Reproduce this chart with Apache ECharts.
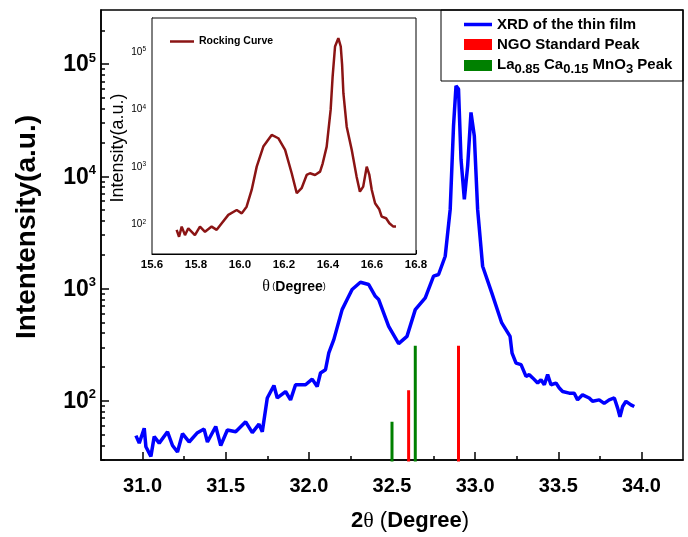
<!DOCTYPE html>
<html>
<head>
<meta charset="utf-8">
<script src="https://cdn.jsdelivr.net/npm/echarts@6/dist/echarts.min.js"></script>
<style>html,body{margin:0;padding:0;background:#fff}#c{width:688px;height:537px}</style>
</head>
<body>
<div id="c"></div>
<script>
// ---- main XRD pattern (2theta, intensity) ----
const xrdX = [30.96, 30.98, 31.01, 31.02, 31.05, 31.07, 31.10, 31.15, 31.18, 31.21, 31.24, 31.28, 31.33, 31.37, 31.39, 31.44, 31.47, 31.51, 31.56, 31.62, 31.66, 31.70, 31.72, 31.75, 31.79, 31.81, 31.86, 31.89, 31.92, 31.98, 32.02, 32.05, 32.07, 32.10, 32.12, 32.15, 32.20, 32.23, 32.26, 32.31, 32.36, 32.40, 32.42, 32.48, 32.54, 32.59, 32.64, 32.70, 32.75, 32.78, 32.82, 32.85, 32.87, 32.885, 32.90, 32.915, 32.935, 32.955, 32.975, 32.995, 33.015, 33.045, 33.10, 33.16, 33.21, 33.222, 33.246, 33.276, 33.306, 33.326, 33.346, 33.376, 33.396, 33.416, 33.436, 33.456, 33.486, 33.506, 33.526, 33.566, 33.596, 33.616, 33.646, 33.686, 33.706, 33.746, 33.776, 33.806, 33.837, 33.857, 33.871, 33.887, 33.907, 33.937, 33.957];
const xrdY = [49, 42, 57, 39, 32, 48, 42, 53, 40, 35, 51, 43, 52, 56, 43, 59, 40, 55, 53, 65, 52, 62, 53, 106, 137, 106, 121, 102, 139, 139, 156, 134, 177, 189, 267, 351, 649, 798, 980, 1137, 1086, 853, 798, 461, 323, 375, 649, 826, 1288, 1334, 1941, 5070, 28100, 64000, 59800, 14200, 6240, 12400, 37100, 22900, 5070, 1580, 916, 494, 375, 266, 217, 210, 165, 171, 160, 144, 154, 139, 171, 139, 144, 130, 121, 117, 117, 102, 113, 106, 99, 102, 95, 102, 106, 86, 72, 89, 99, 92, 89];

// ---- reference peaks ----
const ngoX = [32.60, 32.90];
const ngoY = [124, 310];
const lcmoX = [32.50, 32.64];
const lcmoY = [65, 310];

// ---- rocking curve (theta, intensity) ----
const rockX = [15.712, 15.723, 15.735, 15.75, 15.765, 15.795, 15.818, 15.841, 15.871, 15.894, 15.917, 15.947, 15.985, 16.008, 16.03, 16.053, 16.076, 16.106, 16.144, 16.174, 16.205, 16.235, 16.258, 16.28, 16.303, 16.318, 16.341, 16.364, 16.376, 16.394, 16.412, 16.421, 16.432, 16.447, 16.458, 16.464, 16.47, 16.485, 16.508, 16.53, 16.545, 16.56, 16.576, 16.588, 16.599, 16.614, 16.633, 16.644, 16.664, 16.679, 16.697, 16.709];
const rockY = [79, 60, 90, 64, 84, 64, 90, 73, 90, 79, 103, 144, 175, 153, 200, 391, 997, 2225, 3550, 3110, 1946, 764, 343, 419, 714, 764, 714, 815, 1140, 2225, 9680, 36800, 123000, 172000, 123000, 60000, 18900, 4950, 1946, 667, 365, 447, 995, 714, 391, 230, 180, 134, 126, 103, 90, 90];

// ---- axes ----
const mainXMin = 30.75, mainXMax = 34.25;
const mainXTicks = [31.0, 31.5, 32.0, 32.5, 33.0, 33.5, 34.0];
const mainXMinor = [31.25, 31.75, 32.25, 32.75, 33.25, 33.75];
const mainYMin = 29.7, mainYMax = 303000;
const mainYTicks = [100, 1000, 10000, 100000];
const mainYMinor = [30, 40, 50, 60, 70, 80, 90, 200, 300, 400, 500, 600, 700, 800, 900, 2000, 3000, 4000, 5000, 6000, 7000, 8000, 9000, 20000, 30000, 40000, 50000, 60000, 70000, 80000, 90000, 200000];
const insetXMin = 15.6, insetXMax = 16.8;
const insetYMin = 30, insetYMax = 386000;
const insetYTicks = [100, 1000, 10000, 100000];

const names = {
  xrd: 'XRD of the thin film',
  ngo: 'NGO Standard Peak',
  lcmo: 'La0.85 Ca0.15 MnO3 Peak',
  rock: 'Rocking Curve'
};

const FONT = '"Liberation Sans", Arial, sans-serif';
const pair = (xs, ys) => xs.map((x, i) => [x, ys[i]]);
const sticks = (xs, ys) => {
  const out = [];
  xs.forEach((x, i) => { out.push([x, 1]); out.push([x, ys[i]]); out.push([x, '-']); });
  return out;
};
const pow10 = v => '{b|10}{s|' + Math.round(Math.log10(v)) + '}';

const chart = echarts.init(document.getElementById('c'), null, {renderer: 'canvas'});
chart.setOption({
  backgroundColor: '#fff',
  animation: false,
  textStyle: {fontFamily: FONT},
  grid: [
    {left: 101, top: 10, width: 582, height: 450, show: true, borderColor: '#000', borderWidth: 1.5, backgroundColor: 'transparent'},
    {left: 152, top: 18, width: 264, height: 236, show: true, borderColor: '#000', borderWidth: 1, backgroundColor: '#fff', z: 3}
  ],
  graphic: [{
    type: 'rect', z: 10, silent: true,
    shape: {x: 441, y: 10, width: 242, height: 71},
    style: {fill: 'none', stroke: '#000', lineWidth: 1}
  }],
  legend: [
    {
      orient: 'vertical', left: 459, top: 12, itemGap: 5,
      itemWidth: 28, itemHeight: 11,
      data: [
        {name: names.xrd, icon: 'path://M0,0 M28,11 M0,3.75 L28,3.75 L28,7.25 L0,7.25 Z'},
        {name: names.ngo, icon: 'rect'},
        {name: names.lcmo, icon: 'rect'}
      ],
      formatter: n => n === names.lcmo
        ? '{n|La}{s|0.85} {n|Ca}{s|0.15} {n|MnO}{s|3} {n|Peak}' : n,
      textStyle: {
        fontFamily: FONT, fontSize: 15, fontWeight: 'bold', color: '#000',
        rich: {
          n: {fontFamily: FONT, fontSize: 15, fontWeight: 'bold', color: '#000', lineHeight: 17, verticalAlign: 'top'},
          s: {fontFamily: FONT, fontSize: 13, fontWeight: 'bold', color: '#000', lineHeight: 13, padding: [6, 0, 0, 0], verticalAlign: 'top'}
        }
      }
    },
    {
      orient: 'vertical', left: 165, top: 31,
      itemWidth: 24, itemHeight: 8,
      data: [{name: names.rock, icon: 'path://M0,0 M24,8 M0,2.75 L24,2.75 L24,5.25 L0,5.25 Z'}],
      textStyle: {fontFamily: FONT, fontSize: 10.5, fontWeight: 'bold', color: '#000'}
    }
  ],
  xAxis: [
    {
      type: 'value', gridIndex: 0, min: mainXMin, max: mainXMax,
      name: '{b|2}{t|θ}{p| (}{b|Degree}{p|)}', nameLocation: 'middle', nameGap: 50,
      nameTextStyle: {
        padding: [0, 0, 0, 36],
        rich: {
          b: {fontFamily: FONT, fontSize: 22, fontWeight: 'bold', color: '#000'},
          t: {fontFamily: '"Liberation Serif", serif', fontSize: 22, color: '#000'},
          p: {fontFamily: FONT, fontSize: 22, color: '#000'}
        }
      },
      axisLine: {show: true, lineStyle: {color: '#000', width: 1.5}},
      axisTick: {show: true, inside: true, length: 8, customValues: mainXTicks, lineStyle: {color: '#000', width: 1.5}},
      axisLabel: {customValues: mainXTicks, formatter: v => v.toFixed(1), fontFamily: FONT, fontSize: 20, fontWeight: 'bold', color: '#000', margin: 16},
      splitLine: {show: false}
    },
    {
      type: 'value', gridIndex: 0, min: mainXMin, max: mainXMax, position: 'bottom',
      axisLine: {show: false},
      axisTick: {show: true, inside: true, length: 4, customValues: mainXMinor, lineStyle: {color: '#000', width: 1.5}},
      axisLabel: {show: false},
      splitLine: {show: false}
    },
    {
      type: 'value', gridIndex: 1, min: insetXMin, max: insetXMax, interval: 0.2,
      name: '{t|θ}{p| (}{b|Degree}{p|)}', nameLocation: 'middle', nameGap: 25,
      nameTextStyle: {
        padding: [0, 0, 0, 20],
        rich: {
          b: {fontFamily: FONT, fontSize: 14, fontWeight: 'bold', color: '#000'},
          t: {fontFamily: '"Liberation Serif", serif', fontSize: 16, color: '#000'},
          p: {fontFamily: FONT, fontSize: 9, color: '#000'}
        }
      },
      axisLine: {show: true, lineStyle: {color: '#000', width: 1}},
      axisTick: {show: true, inside: true, length: 4, lineStyle: {color: '#000'}},
      minorTick: {show: true, splitNumber: 2, length: 4, lineStyle: {color: '#000'}},
      axisLabel: {formatter: v => v.toFixed(1), fontFamily: FONT, fontSize: 11.5, fontWeight: 'bold', color: '#000', margin: 5},
      splitLine: {show: false}
    }
  ],
  yAxis: [
    {
      type: 'log', logBase: 10, gridIndex: 0, min: mainYMin, max: mainYMax,
      name: 'Intentensity(a.u.)', nameLocation: 'middle', nameGap: 60,
      nameTextStyle: {fontFamily: FONT, fontSize: 28, fontWeight: 'bold', color: '#000', padding: [0, 0, 0, 16]},
      axisLine: {show: true, lineStyle: {color: '#000', width: 1.5}},
      axisTick: {show: true, inside: true, length: 8, customValues: mainYTicks, lineStyle: {color: '#000', width: 1.5}},
      axisLabel: {
        customValues: mainYTicks, formatter: pow10, margin: 5,
        rich: {
          b: {fontFamily: FONT, fontSize: 23, fontWeight: 'bold', color: '#000', lineHeight: 25, padding: [4, 0, 0, 0], verticalAlign: 'bottom'},
          s: {fontFamily: FONT, fontSize: 13, fontWeight: 'bold', color: '#000', lineHeight: 13, verticalAlign: 'top'}
        }
      },
      splitLine: {show: false}
    },
    {
      type: 'log', logBase: 10, gridIndex: 0, min: mainYMin, max: mainYMax, position: 'left',
      axisLine: {show: false},
      axisTick: {show: true, inside: true, length: 4, customValues: mainYMinor, lineStyle: {color: '#000', width: 1.5}},
      axisLabel: {show: false},
      splitLine: {show: false}
    },
    {
      type: 'log', logBase: 10, gridIndex: 1, min: insetYMin, max: insetYMax,
      name: 'Intensity(a.u.)', nameLocation: 'middle', nameGap: 25,
      nameTextStyle: {fontFamily: FONT, fontSize: 18, color: '#000', padding: [0, 24, 0, 0]},
      axisLine: {show: true, lineStyle: {color: '#000', width: 1}},
      axisTick: {show: true, inside: true, length: 4, customValues: insetYTicks, lineStyle: {color: '#000'}},
      axisLabel: {
        customValues: insetYTicks, formatter: pow10, margin: 6,
        rich: {
          b: {fontFamily: FONT, fontSize: 10, color: '#000', lineHeight: 11, verticalAlign: 'bottom'},
          s: {fontFamily: FONT, fontSize: 6.5, color: '#000', lineHeight: 7, verticalAlign: 'top'}
        }
      },
      splitLine: {show: false}
    }
  ],
  series: [
    {
      name: names.xrd, type: 'line', xAxisIndex: 0, yAxisIndex: 0,
      data: pair(xrdX, xrdY), symbol: 'none', z: 3,
      lineStyle: {color: '#0000ff', width: 3.5}, itemStyle: {color: '#0000ff'}
    },
    {
      name: names.ngo, type: 'line', xAxisIndex: 0, yAxisIndex: 0,
      data: sticks(ngoX, ngoY), symbol: 'none', connectNulls: false, z: 2,
      lineStyle: {color: '#ff0000', width: 3}, itemStyle: {color: '#ff0000'}
    },
    {
      name: names.lcmo, type: 'line', xAxisIndex: 0, yAxisIndex: 0,
      data: sticks(lcmoX, lcmoY), symbol: 'none', connectNulls: false, z: 2,
      lineStyle: {color: '#008000', width: 3}, itemStyle: {color: '#008000'}
    },
    {
      name: names.rock, type: 'line', xAxisIndex: 2, yAxisIndex: 2,
      data: pair(rockX, rockY), symbol: 'none', z: 5,
      lineStyle: {color: '#8b1414', width: 2.5}, itemStyle: {color: '#8b1414'}
    }
  ]
});
</script>
</body>
</html>
